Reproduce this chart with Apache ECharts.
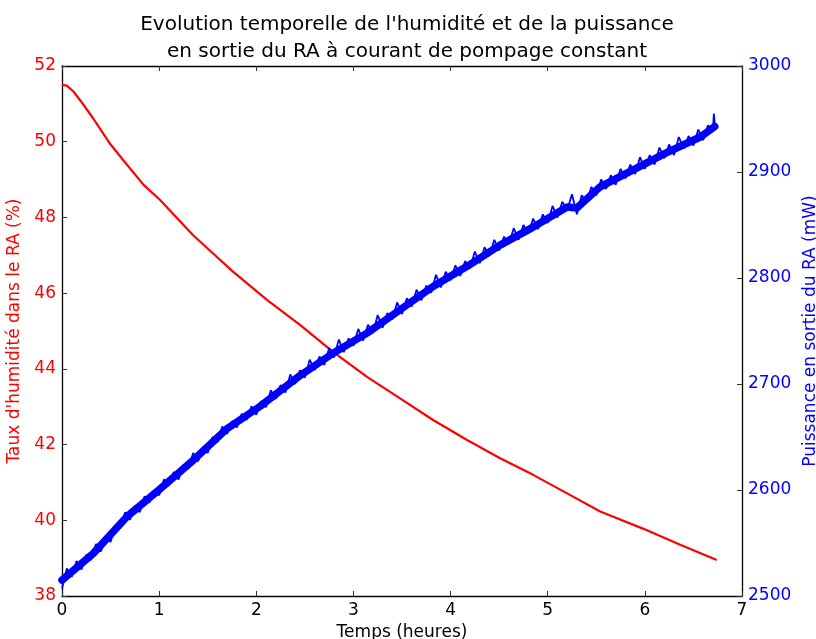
<!DOCTYPE html>
<html>
<head>
<meta charset="utf-8">
<script src="https://cdn.jsdelivr.net/npm/echarts@6/dist/echarts.min.js"></script>
<style>html,body{margin:0;padding:0;background:#fff}#c{width:816px;height:639px}</style>
</head>
<body>
<div id="c"></div>
<script>
const titleLines = ["Evolution temporelle de l'humidité et de la puissance", "en sortie du RA à courant de pompage constant"];
const xName = "Temps (heures)";
const leftName = "Taux d'humidité dans le RA (%)";
const rightName = "Puissance en sortie du RA (mW)";

// humidity (%) vs time (h)
const humidity = [
  [0,51.50],[0.05,51.48],[0.12,51.32],[0.20,51.05],[0.32,50.62],[0.49,49.96],[0.65,49.45],
  [0.84,48.86],[1.01,48.46],[1.20,47.94],[1.35,47.53],[1.55,47.06],[1.76,46.57],[2.11,45.82],
  [2.45,45.16],[2.79,44.45],[3.14,43.79],[3.48,43.22],[3.82,42.65],[4.17,42.12],[4.51,41.64],
  [4.85,41.20],[5.20,40.71],[5.54,40.23],[5.98,39.78],[6.37,39.35],[6.74,38.95]
];

// power core (mW) vs time (h)
const powerCore = [
  [0,2515],[0.32,2540],[0.67,2575],[1.01,2601],[1.35,2628],[1.70,2658],[2.04,2679],[2.45,2708],
  [2.79,2729],[3.14,2748],[3.48,2770],[3.82,2792],[4.17,2811],[4.51,2831],[4.85,2848],[5.20,2867],
  [5.30,2866],[5.54,2886],[5.88,2902],[6.22,2918],[6.57,2933],[6.72,2943]
];

// power noisy trace (mW) vs time (h)
const powerNoisy = [
  [0.00,2507],[0.05,2526],[0.10,2518],[0.15,2533],[0.20,2525],[0.25,2539],[0.30,2534],[0.35,2549],
  [0.40,2542],[0.45,2555],[0.50,2551],[0.55,2567],[0.60,2564],[0.65,2579],[0.70,2572],[0.75,2585],
  [0.80,2579],[0.85,2594],[0.90,2588],[0.95,2599],[1.00,2595],[1.05,2610],[1.10,2604],[1.15,2617],
  [1.20,2610],[1.25,2624],[1.30,2620],[1.35,2635],[1.40,2627],[1.45,2640],[1.50,2635],[1.55,2650],
  [1.60,2645],[1.65,2660],[1.70,2653],[1.75,2665],[1.80,2659],[1.85,2672],[1.90,2666],[1.95,2679],
  [2.00,2671],[2.05,2684],[2.10,2678],[2.15,2694],[2.20,2686],[2.25,2699],[2.30,2692],[2.35,2709],
  [2.40,2700],[2.45,2713],[2.50,2706],[2.55,2723],[2.60,2713],[2.65,2726],[2.70,2718],[2.75,2734],
  [2.80,2725],[2.85,2742],[2.90,2730],[2.95,2743],[3.00,2736],[3.05,2752],[3.10,2741],[3.15,2756],
  [3.20,2748],[3.25,2765],[3.30,2753],[3.35,2767],[3.40,2761],[3.45,2777],[3.50,2766],[3.55,2781],
  [3.60,2773],[3.65,2789],[3.70,2779],[3.75,2793],[3.80,2786],[3.85,2803],[3.90,2791],[3.95,2806],
  [4.00,2798],[4.05,2812],[4.10,2802],[4.15,2816],[4.20,2809],[4.25,2825],[4.30,2814],[4.35,2829],
  [4.40,2821],[4.45,2836],[4.50,2826],[4.55,2839],[4.60,2832],[4.65,2847],[4.70,2836],[4.75,2850],
  [4.80,2842],[4.85,2856],[4.90,2846],[4.95,2860],[5.00,2852],[5.05,2868],[5.10,2857],[5.15,2872],
  [5.20,2864],[5.25,2879],[5.30,2860],[5.35,2878],[5.40,2872],[5.45,2886],[5.50,2878],[5.55,2893],
  [5.60,2884],[5.65,2897],[5.70,2888],[5.75,2903],[5.80,2894],[5.85,2907],[5.90,2898],[5.95,2914],
  [6.00,2903],[6.05,2916],[6.10,2907],[6.15,2923],[6.20,2913],[6.25,2926],[6.30,2916],[6.35,2933],
  [6.40,2922],[6.45,2934],[6.50,2925],[6.55,2940],[6.60,2930],[6.65,2944],[6.70,2938],[6.71,2955],
  [6.72,2945]
];

const FONT = "DejaVu Sans";
const chart = echarts.init(document.getElementById('c'), null, {renderer: 'canvas'});
const tickStyle = {show: true, inside: true, length: 5, lineStyle: {color: '#333', width: 1}};
const lineStyle = {show: true, onZero: false, lineStyle: {color: '#000', width: 1.3}};
chart.setOption({
  animation: false,
  backgroundColor: '#fff',
  title: {
    text: titleLines.join('\n'),
    left: 402, top: 6, textAlign: 'center',
    textStyle: {fontFamily: FONT, fontSize: 20, fontWeight: 'normal', color: '#000', lineHeight: 27}
  },
  grid: {left: 62, right: 74, top: 66, bottom: 43, containLabel: false, outerBoundsMode: 'none'},
  xAxis: [{
    type: 'value', min: 0, max: 7, interval: 1, position: 'bottom',
    name: xName, nameLocation: 'middle', nameGap: 24,
    nameTextStyle: {fontFamily: FONT, fontSize: 17, color: '#000'},
    axisLine: lineStyle,
    axisTick: tickStyle,
    axisLabel: {fontFamily: FONT, fontSize: 17, color: '#000', margin: 6},
    splitLine: {show: false}
  }, {
    type: 'value', min: 0, max: 7, interval: 1, position: 'top',
    axisLine: lineStyle,
    axisTick: tickStyle, axisLabel: {show: false}, splitLine: {show: false}
  }],
  yAxis: [{
    type: 'value', min: 38, max: 52, interval: 2, position: 'left',
    name: leftName, nameLocation: 'middle', nameGap: 30, nameRotate: 90,
    nameTextStyle: {fontFamily: FONT, fontSize: 17, color: '#ff0000'},
    axisLine: lineStyle,
    axisTick: tickStyle,
    axisLabel: {fontFamily: FONT, fontSize: 17, color: '#ff0000', margin: 6},
    splitLine: {show: false}
  }, {
    type: 'value', min: 2500, max: 3000, interval: 100, position: 'right',
    name: rightName, nameLocation: 'middle', nameGap: 55, nameRotate: 90,
    nameTextStyle: {fontFamily: FONT, fontSize: 17, color: '#0000ff'},
    axisLine: lineStyle,
    axisTick: tickStyle,
    axisLabel: {fontFamily: FONT, fontSize: 17, color: '#0000ff', margin: 6, formatter: v => String(v)},
    splitLine: {show: false}
  }],
  series: [{
    type: 'line', name: 'humidite', xAxisIndex: 0, yAxisIndex: 0, data: humidity,
    showSymbol: false, symbol: 'none', z: 2,
    lineStyle: {color: '#ff0000', width: 2.2}
  }, {
    type: 'line', name: 'puissance', xAxisIndex: 0, yAxisIndex: 1, data: powerCore,
    showSymbol: false, symbol: 'none', z: 3,
    lineStyle: {color: '#0000ff', width: 7.5, join: 'round', cap: 'round'}
  }, {
    type: 'line', name: 'puissance bruit', xAxisIndex: 0, yAxisIndex: 1, data: powerNoisy,
    showSymbol: false, symbol: 'none', z: 4,
    lineStyle: {color: '#0000ff', width: 1.8}
  }]
});
</script>
</body>
</html>
